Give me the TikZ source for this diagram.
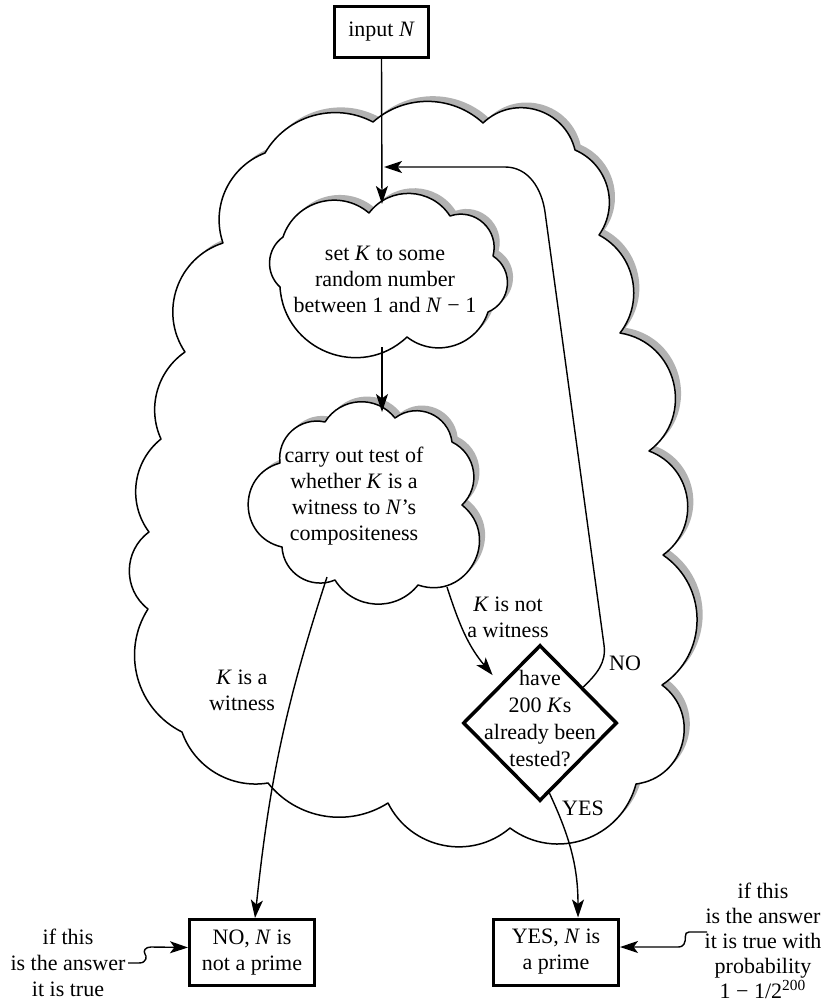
\documentclass[tikz,border=0pt]{standalone}
\usepackage{fontspec}
\setmainfont{Liberation Serif}
\usetikzlibrary{arrows.meta,shapes.geometric,calc}
\begin{document}
\begin{tikzpicture}[x=0.5pt,y=-0.5pt,
  lobe/.code={\pgfmathsetmacro\lobeloose{1.7029/(1+cos(#1))}\edef\lobetmp{\noexpand\tikzset{bend left=#1,looseness=\lobeloose}}\lobetmp},
  cloudline/.style={draw=black, fill=white, line width=0.75pt, line join=round},
  cloudshadow/.style={fill=black!30, shift={(2.8pt,2.6pt)}},
  lbl/.style={align=center, font=\fontsize{11}{13}\selectfont, inner sep=0pt},
  thickbox/.style={draw, line width=1.5pt, align=center, inner sep=0pt, font=\fontsize{11}{13}\selectfont},
  arr/.style={line width=0.7pt, -{Stealth[length=9pt,width=6pt,inset=2.2pt]}},
]
\useasboundingbox (0,0) rectangle (829,1006);

\def\bigcloud{(373,122) to[lobe=42] (483,123) to[lobe=60] (575,150) to[lobe=51] (599,235) to[lobe=50] (620,333) to[lobe=67] (649,451) to[lobe=62] (663,555) to[lobe=56] (662,685) to[lobe=68] (636,784) to[lobe=56] (510,828) to[lobe=52] (388,803) to[lobe=42] (268,783) to[lobe=40] (182,732) to[lobe=48] (148,609) to[lobe=53] (149,532) to[lobe=44] (161,439) to[lobe=40] (185,352) to[lobe=53] (223,243) to[lobe=44] (265,153) to[lobe=44] (373,122) -- cycle}
\def\cloudA{(283,237) to[lobe=56] (369,213) to[lobe=55] (450,216) to[lobe=62] (493,256) to[lobe=62] (488,312) to[lobe=55] (407,337) to[lobe=65] (280,287) to[lobe=51] (283,237) -- cycle}
\def\cloudB{(280,463) to[lobe=55] (325,422) to[lobe=55] (395,418) to[lobe=60] (452,442) to[lobe=55] (462,505) to[lobe=80] (418,585) to[lobe=55] (335,580) to[lobe=55] (282,547) to[lobe=76] (280,463) -- cycle}

% clouds
\fill[cloudshadow] \bigcloud;
\path[cloudline] \bigcloud;
\fill[cloudshadow] \cloudA;
\path[cloudline] \cloudA;
\fill[cloudshadow] \cloudB;
\path[cloudline] \cloudB;

% nodes
\node[thickbox, minimum width=47pt, minimum height=25.5pt] (in) at (381.5,32) {input \textit{N}};
\node[lbl] (setk) at (385,279) {set \textit{K} to some\\random number\\between 1 and \textit{N} − 1};
\node[lbl] (test) at (354,496) {carry out test of\\whether \textit{K} is a\\witness to \textit{N}’s\\compositeness};
\node[diamond, draw, line width=1.75pt, minimum width=77pt, minimum height=78pt, inner sep=0pt] (dia) at (540,723) {};
\node[lbl, font=\fontsize{11}{13.5}\selectfont] (diatext) at (540,719) {have\\200 \textit{K}s\\already been\\tested?};
\node[thickbox, minimum width=62.5pt, minimum height=33pt] (nobox) at (252,952.5) {NO, \textit{N} is\\not a prime};
\node[thickbox, minimum width=62.5pt, minimum height=33pt] (yesbox) at (556,952) {YES, \textit{N} is\\a prime};

% labels
\node[lbl] (notw) at (508,617) {\textit{K} is not\\a witness};
\node[lbl] (isw) at (242,690) {\textit{K} is a\\witness};
\node[lbl] (nolbl) at (625,663) {NO};
\node[lbl] (yeslbl) at (583,808) {YES};
\node[lbl] (annL) at (68,963) {if this\\is the answer\\it is true};
\node[lbl, font=\fontsize{11}{12.5}\selectfont] (annR) at (763,941) {if this\\is the answer\\it is true with\\probability\\1 − 1/2\textsuperscript{200}};

% coordinates
\coordinate (c1top) at (382,204);
\coordinate (c1bot) at (382,347);
\coordinate (c2top) at (382,412);
\coordinate (c2left) at (327,577);
\coordinate (c2right) at (447,587);
\coordinate (merge) at (384,167);
\coordinate (noStart) at ($(dia.north)!0.55!(dia.east)$);
\coordinate (yesStart) at ($(dia.south)!0.12!(dia.east)$);
\coordinate (sqL) at (128,963);
\coordinate (sqR) at (707,932);

% connectors
\draw[arr] (in.south) -- (c1top);
\draw[arr] (c1bot) -- (c2top);
\draw[arr] (c2left) to[out=-108,in=84] ([xshift=1.5pt]nobox.north);
\draw[arr] (c2right) to[out=-72,in=130] ([xshift=-4pt,yshift=4pt]dia.north west);
\draw[arr] (yesStart) to[out=-65,in=90] ([xshift=11pt]yesbox.north);
\draw[arr] (noStart) to[out=45,in=-82] (604,645) -- (545,212) to[out=98,in=0] (505,167) -- (merge);
\draw[arr] (sqL) -- (139,963) .. controls (147,963) and (147,956) .. (145,954) .. controls (143,951) and (145,947) .. (151,947) -- ([yshift=2.5pt]nobox.west);
\draw[arr] (sqR) -- (689,932) .. controls (683,932) and (687,940) .. (684,944) .. controls (682,947) and (680,947) .. (676,947) -- ([yshift=2.5pt]yesbox.east);
\end{tikzpicture}
\end{document}
